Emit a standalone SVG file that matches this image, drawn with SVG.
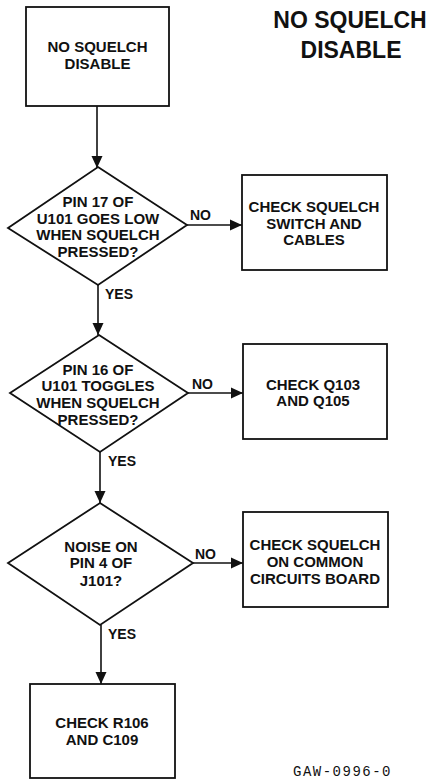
<svg xmlns="http://www.w3.org/2000/svg" width="437" height="780" viewBox="0 0 437 780">
<style>
.n{fill:#fff;stroke:#111;stroke-width:1.8}
.t{font-family:"Liberation Sans",Arial,sans-serif;font-weight:bold;font-size:15px;fill:#111;text-anchor:middle}
.l{font-family:"Liberation Sans",Arial,sans-serif;font-weight:bold;font-size:14px;fill:#111}
.c{stroke:#111;stroke-width:1.6;fill:none;marker-end:url(#a)}
.ti{font-family:"Liberation Sans",Arial,sans-serif;font-weight:bold;font-size:23px;fill:#111;text-anchor:middle}
.g{font-family:"Liberation Mono","Courier New",monospace;font-size:14px;fill:#111;letter-spacing:1.5px}
</style>
<defs>
<marker id="a" markerUnits="userSpaceOnUse" markerWidth="12" markerHeight="12" viewBox="0 0 12 12" refX="12" refY="6" orient="auto">
<path d="M0,0.5 L12,6 L0,11.5 Z" fill="#111"/>
</marker>
</defs>
<rect width="437" height="780" fill="#fff"/>
<g id="title">
<text class="ti" x="350" y="28">NO SQUELCH</text>
<text class="ti" x="351" y="58">DISABLE</text>
</g>
<g id="connectors">
<line class="c" x1="97" y1="106" x2="97" y2="168"/>
<line class="c" x1="187" y1="225" x2="242" y2="225"/>
<line class="c" x1="98" y1="285" x2="98" y2="335"/>
<line class="c" x1="188" y1="393" x2="243" y2="393"/>
<line class="c" x1="100" y1="452" x2="100" y2="503"/>
<line class="c" x1="193" y1="563" x2="243" y2="563"/>
<line class="c" x1="101" y1="625" x2="101" y2="684"/>
<text class="l" x="190" y="220">NO</text>
<text class="l" x="105" y="299">YES</text>
<text class="l" x="192" y="389">NO</text>
<text class="l" x="108" y="466">YES</text>
<text class="l" x="195" y="559">NO</text>
<text class="l" x="108" y="639">YES</text>
</g>
<g id="start">
<rect class="n" x="26" y="7" width="143" height="99"/>
<text class="t" x="97.5" y="52">NO SQUELCH</text>
<text class="t" x="97.5" y="69">DISABLE</text>
</g>
<g id="d1">
<polygon class="n" points="98,167 187,225 98,285 8,228"/>
<text class="t" x="98" y="207">PIN 17 OF</text>
<text class="t" x="98" y="223.5">U101 GOES LOW</text>
<text class="t" x="98" y="240">WHEN SQUELCH</text>
<text class="t" x="98" y="256.5">PRESSED?</text>
</g>
<g id="b2">
<rect class="n" x="242" y="175" width="145" height="95"/>
<text class="t" x="314" y="212">CHECK SQUELCH</text>
<text class="t" x="314" y="228.5">SWITCH AND</text>
<text class="t" x="314" y="245">CABLES</text>
</g>
<g id="d2">
<polygon class="n" points="99,335 188,393 100,452 10,393"/>
<text class="t" x="98" y="375">PIN 16 OF</text>
<text class="t" x="98" y="391">U101 TOGGLES</text>
<text class="t" x="98" y="408">WHEN SQUELCH</text>
<text class="t" x="98" y="425">PRESSED?</text>
</g>
<g id="b3">
<rect class="n" x="243" y="344" width="144" height="95"/>
<text class="t" x="313" y="390">CHECK Q103</text>
<text class="t" x="313" y="406">AND Q105</text>
</g>
<g id="d3">
<polygon class="n" points="100,503 193,563 100,625 8,563"/>
<text class="t" x="101" y="552">NOISE ON</text>
<text class="t" x="101" y="568">PIN 4 OF</text>
<text class="t" x="101" y="586">J101?</text>
</g>
<g id="b4">
<rect class="n" x="243" y="512" width="145" height="95"/>
<text class="t" x="315" y="550">CHECK SQUELCH</text>
<text class="t" x="315" y="567">ON COMMON</text>
<text class="t" x="315" y="584">CIRCUITS BOARD</text>
</g>
<g id="b5">
<rect class="n" x="30" y="684" width="145" height="94"/>
<text class="t" x="102" y="728">CHECK R106</text>
<text class="t" x="102" y="745">AND C109</text>
</g>
<g id="code">
<text class="g" x="293" y="776">GAW-0996-0</text>
</g>
</svg>
